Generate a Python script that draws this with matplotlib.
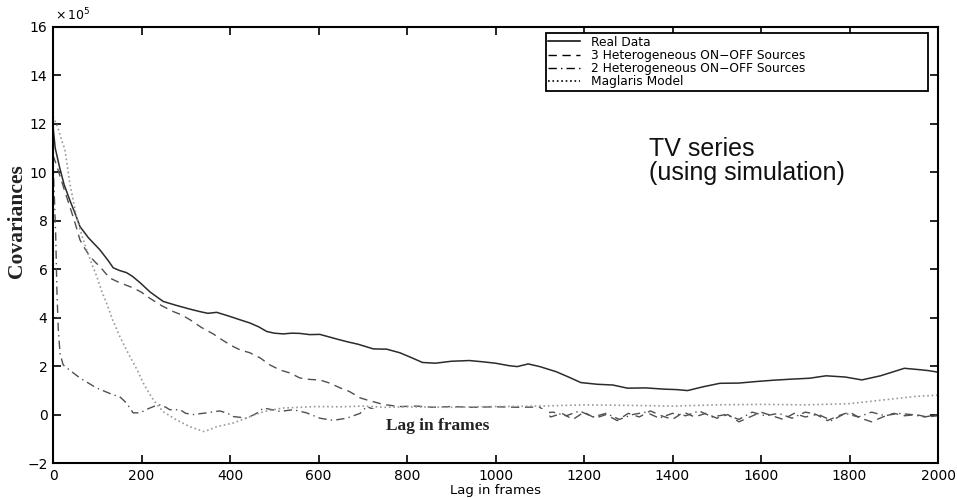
import matplotlib
matplotlib.use("Agg")
import matplotlib.pyplot as plt
from matplotlib.patches import Rectangle

# ---------------- data (covariances in units of 1e5) ----------------
real_lag = [0, 5, 15, 25, 38, 50, 61, 80, 106, 125, 136, 150, 166, 180, 197, 220, 249, 280,
            310, 332, 350, 370, 400, 423, 445, 465, 483, 500, 520, 540, 558, 580, 603, 625,
            645, 664, 690, 724, 754, 784, 810, 835, 864, 900, 941, 970, 1000, 1030, 1049,
            1074, 1100, 1137, 1165, 1193, 1230, 1265, 1298, 1340, 1380, 1410, 1434, 1470,
            1507, 1550, 1587, 1630, 1667, 1710, 1747, 1790, 1828, 1870, 1924, 1960, 1980, 2000]
real_cov = [11.9, 11.0, 10.2, 9.5, 8.85, 8.3, 7.76, 7.3, 6.8, 6.35, 6.06, 5.95, 5.86, 5.7,
            5.44, 5.05, 4.67, 4.5, 4.35, 4.25, 4.18, 4.22, 4.05, 3.91, 3.78, 3.62, 3.43, 3.36,
            3.33, 3.36, 3.35, 3.3, 3.31, 3.2, 3.1, 3.01, 2.9, 2.71, 2.7, 2.55, 2.35, 2.15,
            2.12, 2.2, 2.23, 2.18, 2.12, 2.02, 1.98, 2.09, 1.98, 1.77, 1.55, 1.32, 1.25, 1.22,
            1.09, 1.1, 1.05, 1.03, 0.99, 1.15, 1.29, 1.3, 1.36, 1.42, 1.46, 1.5, 1.6, 1.55,
            1.43, 1.6, 1.91, 1.85, 1.81, 1.75]

het3_lag = [0, 8, 16, 27, 38, 50, 61, 72, 84, 95, 106, 118, 129, 150, 181, 200, 219, 245,
            272, 290, 310, 335, 362, 385, 407, 423, 445, 468, 490, 513, 535, 558, 580, 603,
            625, 649, 670, 694, 710, 724, 740, 754, 770, 784, 820, 860, 900, 950, 1000, 1050,
            1100, 1125, 1150, 1175, 1200, 1225, 1250, 1275, 1300, 1325, 1350, 1375, 1400,
            1425, 1450, 1475, 1500, 1525, 1550, 1575, 1600, 1625, 1650, 1675, 1700, 1725,
            1750, 1775, 1800, 1825, 1850, 1875, 1900, 1925, 1950, 1975, 2000]
het3_cov = [10.7, 10.3, 9.83, 9.2, 8.59, 7.9, 7.21, 6.85, 6.52, 6.3, 6.11, 5.85, 5.63, 5.45,
            5.23, 5.05, 4.8, 4.5, 4.25, 4.12, 3.91, 3.6, 3.33, 3.05, 2.81, 2.67, 2.55, 2.34,
            2.05, 1.84, 1.72, 1.51, 1.45, 1.43, 1.3, 1.1, 0.95, 0.69, 0.6, 0.53, 0.45, 0.40,
            0.36, 0.33, 0.35, 0.3, 0.33, 0.3, 0.32, 0.3, 0.31, -0.1, 0.05, -0.2, 0.1, -0.15,
            0.0, -0.25, 0.05, -0.1, 0.15, -0.05, -0.2, 0.1, -0.1, 0.05, -0.15, 0.0, -0.3,
            -0.1, 0.1, -0.05, -0.2, 0.05, -0.1, 0.0, -0.25, -0.05, 0.1, -0.15, -0.3, -0.1,
            0.05, -0.05, 0.0, -0.1, -0.05]

het2_lag = [0, 3, 6, 9, 12, 16, 23, 40, 61, 80, 98, 118, 136, 150, 166, 181, 197, 210, 219,
            230, 242, 255, 264, 287, 300, 317, 347, 377, 395, 407, 438, 460, 476, 495, 513,
            543, 573, 603, 633, 664, 694, 709, 740, 780, 820, 860, 900, 950, 1000, 1050, 1100,
            1130, 1160, 1190, 1220, 1250, 1280, 1310, 1340, 1370, 1400, 1430, 1460, 1490,
            1520, 1550, 1580, 1610, 1640, 1670, 1700, 1730, 1760, 1790, 1820, 1850, 1880,
            1910, 1940, 1970, 2000]
het2_cov = [10.5, 9.0, 7.5, 5.0, 3.5, 2.5, 2.05, 1.8, 1.51, 1.3, 1.1, 0.95, 0.81, 0.75, 0.48,
            0.07, 0.07, 0.2, 0.27, 0.35, 0.40, 0.3, 0.2, 0.2, 0.05, 0.0, 0.07, 0.15, 0.05,
            -0.08, -0.15, 0.05, 0.27, 0.2, 0.13, 0.2, 0.07, -0.15, -0.24, -0.15, 0.05, 0.33,
            0.1, 0.0, 0.05, -0.1, 0.0, 0.05, -0.05, 0.0, 0.05, 0.1, -0.05, 0.15, -0.1, 0.05,
            -0.2, 0.0, 0.1, -0.15, 0.05, -0.05, 0.15, -0.1, 0.0, -0.2, 0.1, -0.05, 0.05,
            -0.15, 0.1, 0.0, -0.25, 0.05, -0.1, 0.1, -0.05, 0.05, 0.0, -0.1, 0.0]

mag_lag = [0, 10, 20, 27, 38, 53, 65, 76, 88, 99, 110, 121, 135, 151, 166, 174, 190, 204,
           215, 227, 238, 249, 264, 279, 294, 309, 325, 340, 355, 370, 390, 407, 422, 438,
           457, 476, 498, 520, 560, 595, 650, 700, 750, 800, 900, 1000, 1100, 1200, 1300,
           1400, 1500, 1600, 1700, 1800, 1850, 1900, 1950, 2000]
mag_cov = [12.3, 11.9, 11.3, 10.93, 9.55, 8.18, 7.4, 6.80, 6.2, 5.70, 5.1, 4.6, 3.9, 3.22,
           2.67, 2.39, 1.85, 1.3, 0.95, 0.6, 0.35, 0.12, -0.05, -0.22, -0.36, -0.5, -0.6,
           -0.7, -0.62, -0.5, -0.42, -0.35, -0.25, -0.14, 0.0, 0.12, 0.2, 0.27, 0.3, 0.33,
           0.32, 0.35, 0.3, 0.32, 0.3, 0.33, 0.35, 0.4, 0.38, 0.35, 0.4, 0.42, 0.4, 0.45,
           0.55, 0.65, 0.75, 0.8]

series_labels = ["Real Data", "3 Heterogeneous ON\u2212OFF Sources",
                 "2 Heterogeneous ON\u2212OFF Sources", "Maglaris Model"]
x_ticks = [0, 200, 400, 600, 800, 1000, 1200, 1400, 1600, 1800, 2000]
y_ticks = [-2, 0, 2, 4, 6, 8, 10, 12, 14, 16]

# ---------------- figure ----------------
W, H = 957, 498
fig = plt.figure(figsize=(W / 100, H / 100), dpi=100)
ax = fig.add_axes([53 / W, (H - 463) / H, (938 - 53) / W, (463 - 27) / H])

ax.plot(real_lag, real_cov, '-', color='#2b2b2b', lw=1.1, label=series_labels[0])
ax.plot(het3_lag, het3_cov, '--', color='#505050', lw=1.0, dashes=(6, 4), label=series_labels[1])
ax.plot(het2_lag, het2_cov, '-.', color='#505050', lw=1.0, dashes=(6, 3, 1, 3), label=series_labels[2])
ax.plot(mag_lag, mag_cov, ':', color='#9a9a9a', lw=1.2, label=series_labels[3])

# white patch carrying the pasted-in "Lag in frames" caption
ax.add_patch(Rectangle((716, -1.3), 405, 1.52, facecolor='white', edgecolor='none', zorder=3))
ax.text(0.435, 0.085, "Lag in frames", transform=ax.transAxes, ha='center', va='center',
        fontsize=12.5, fontweight='bold', family='Liberation Serif', color='#222222', zorder=4)

ax.set_xlim(0, 2000)
ax.set_ylim(-2, 16)
ax.set_xticks(x_ticks)
ax.set_yticks(y_ticks)
ax.tick_params(direction='in', length=6, width=1.2, top=True, right=True,
               labelsize=10, pad=4)
for lab in ax.get_xticklabels() + ax.get_yticklabels():
    lab.set_family('DejaVu Sans')
for sp in ax.spines.values():
    sp.set_linewidth(1.5)
    sp.set_color('black')

leg = ax.legend(loc='upper left', bbox_to_anchor=(0.557, 0.853, 0.432, 0.133), mode='expand',
                borderaxespad=0, fancybox=False, edgecolor='black', framealpha=1,
                handlelength=2.6, handletextpad=0.9, labelspacing=0.02,
                borderpad=0.2, prop={'family': 'DejaVu Sans', 'size': 8.8})
leg.get_frame().set_linewidth(1.3)
for h in leg.get_lines():
    h.set_color('black')

fig.text(649 / W, (H - 137) / H, "TV series\n(using simulation)", ha='left', va='top',
         fontsize=18, family='Liberation Sans', linespacing=1.0, color='#111111')

fig.text(55 / W, (H - 15) / H, r"$\times\,10^{5}$", ha='left', va='center', fontsize=9)
fig.text(17 / W, (H - 221) / H, "Covariances", rotation=90, ha='center', va='center',
         fontsize=15.5, fontweight='bold', family='Liberation Serif', color='#222222')
fig.text(495 / W, 1 / H, "Lag in frames", ha='center', va='bottom', fontsize=9.5,
         family='DejaVu Sans')

fig.savefig("out.png", dpi=100)
